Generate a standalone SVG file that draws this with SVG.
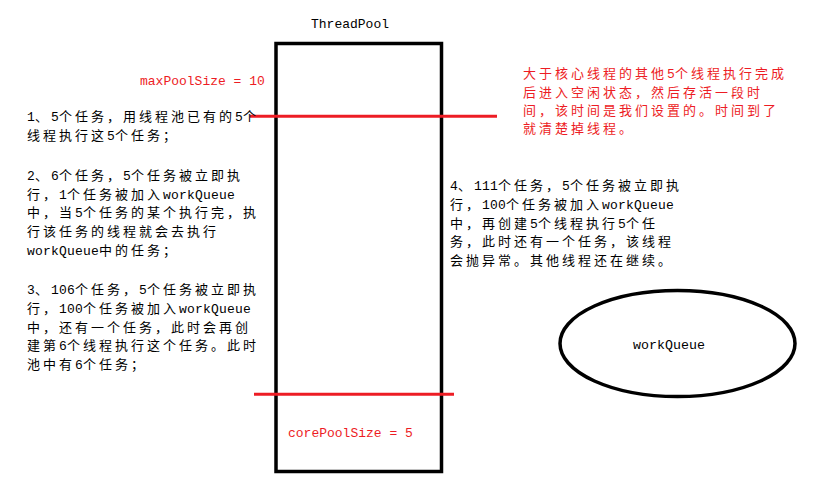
<svg xmlns="http://www.w3.org/2000/svg" width="823" height="486" viewBox="0 0 823 486">
<style>
.bg{fill:#ffffff}
.box{fill:none;stroke:#000000;stroke-width:3.5}
.red{stroke:#ED1C24;stroke-width:3}
.mono{font-family:"Liberation Mono","DejaVu Sans Mono",monospace;font-size:13px;fill:#000000}
.rmono{font-family:"Liberation Mono","DejaVu Sans Mono",monospace;font-size:13px;fill:#ED1C24}
.cn{font-family:"Liberation Mono","Noto Sans CJK SC",monospace;font-size:13px;fill:#000000;letter-spacing:3px}
.rcn{font-family:"Liberation Mono","Noto Sans CJK SC",monospace;font-size:13px;fill:#ED1C24;letter-spacing:3px}
.l{letter-spacing:0.2px}
</style>
<rect class="bg" x="0" y="0" width="823" height="486"/>

<g id="threadpool">
  <text class="mono" x="350" y="28" text-anchor="middle">ThreadPool</text>
  <rect class="box" x="276" y="43.5" width="165.5" height="428"/>
</g>

<g id="workqueue">
  <ellipse class="box" cx="677.5" cy="343.5" rx="117.5" ry="53"/>
  <text class="mono" style="font-size:13.3px" x="669" y="349" text-anchor="middle">workQueue</text>
</g>

<g id="connectors">
  <line class="red" x1="250" y1="116.3" x2="497" y2="116.3"/>
  <line class="red" x1="254" y1="394.2" x2="454" y2="394.2"/>
</g>

<g id="max-label">
  <text class="rmono" x="140" y="85">maxPoolSize = 10</text>
</g>

<g id="core-label">
  <text class="rmono" x="288" y="437">corePoolSize = 5</text>
</g>

<g id="note-1">
  <text class="cn" x="27" y="121"><tspan class="l">1</tspan>、<tspan class="l">5</tspan>个任务，用线程池已有的<tspan class="l">5</tspan>个</text>
  <text class="cn" x="27" y="140">线程执行这<tspan class="l">5</tspan>个任务；</text>
</g>

<g id="note-2">
  <text class="cn" x="27" y="180"><tspan class="l">2</tspan>、<tspan class="l">6</tspan>个任务，<tspan class="l">5</tspan>个任务被立即执</text>
  <text class="cn" x="27" y="198.5">行，<tspan class="l">1</tspan>个任务被加入<tspan class="l">workQueue</tspan></text>
  <text class="cn" x="27" y="217">中，当<tspan class="l">5</tspan>个任务的某个执行完，执</text>
  <text class="cn" x="27" y="236">行该任务的线程就会去执行</text>
  <text class="cn" x="27" y="255"><tspan class="l">workQueue</tspan>中的任务；</text>
</g>

<g id="note-3">
  <text class="cn" x="27" y="294"><tspan class="l">3</tspan>、<tspan class="l">106</tspan>个任务，<tspan class="l">5</tspan>个任务被立即执</text>
  <text class="cn" x="27" y="312.5">行，<tspan class="l">100</tspan>个任务被加入<tspan class="l">workQueue</tspan></text>
  <text class="cn" x="27" y="331.5">中，还有一个任务，此时会再创</text>
  <text class="cn" x="27" y="350">建第<tspan class="l">6</tspan>个线程执行这个任务。此时</text>
  <text class="cn" x="27" y="369">池中有<tspan class="l">6</tspan>个任务；</text>
</g>

<g id="note-4">
  <text class="cn" x="450" y="190"><tspan class="l">4</tspan>、<tspan class="l">111</tspan>个任务，<tspan class="l">5</tspan>个任务被立即执</text>
  <text class="cn" x="450" y="209">行，<tspan class="l">100</tspan>个任务被加入<tspan class="l">workQueue</tspan></text>
  <text class="cn" x="450" y="227.5">中，再创建<tspan class="l">5</tspan>个线程执行<tspan class="l">5</tspan>个任</text>
  <text class="cn" x="450" y="246">务，此时还有一个任务，该线程</text>
  <text class="cn" x="450" y="265">会抛异常。其他线程还在继续。</text>
</g>

<g id="note-idle">
  <text class="rcn" x="523" y="78">大于核心线程的其他<tspan class="l">5</tspan>个线程执行完成</text>
  <text class="rcn" x="523" y="97">后进入空闲状态，然后存活一段时</text>
  <text class="rcn" x="523" y="115">间，该时间是我们设置的。时间到了</text>
  <text class="rcn" x="523" y="133">就清楚掉线程。</text>
</g>
</svg>
